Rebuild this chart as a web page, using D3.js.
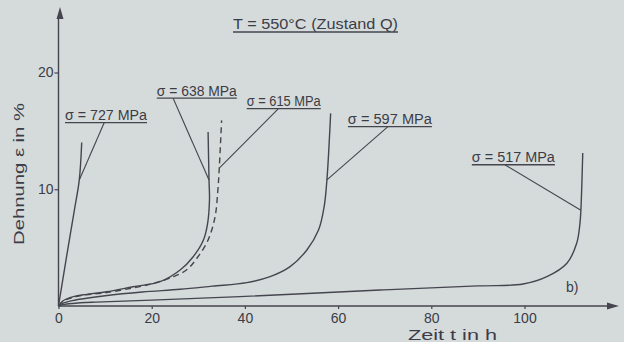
<!DOCTYPE html>
<html>
<head>
<meta charset="utf-8">
<script src="https://cdn.jsdelivr.net/npm/d3@7"></script>
<style>
  html, body { margin: 0; padding: 0; background: #d5dbda; }
  svg { display: block; }
  text { font-family: "Liberation Sans", "DejaVu Sans", sans-serif; fill: #3c3c48; }
</style>
</head>
<body>
<svg id="chart" width="624" height="342"></svg>
<script>
// Creep curves at T = 550 °C, strain (%) over time (h)
const timeTicks = [0, 20, 40, 60, 80, 100];
const strainTicks = [10, 20];
const stressLabels = ["σ = 727 MPa", "σ = 638 MPa", "σ = 615 MPa", "σ = 597 MPa", "σ = 517 MPa"];

const t727 = [0, 1.0, 2.2, 3.4, 4.46, 4.98];
const e727 = [0, 2.45, 5.35, 8.2, 10.8, 14.0];

const t638 = [0, 1, 3.2, 6, 10.3, 16, 21.8, 26.1, 28.9, 31.1, 32.0, 32.4, 32.3, 32.1];
const e638 = [0, 0.45, 0.8, 1.0, 1.22, 1.65, 2.08, 3.08, 4.22, 5.65, 7.08, 9.08, 10.8, 14.9];

const t615 = [0, 1, 3.2, 6, 10.3, 16, 20.5, 24.6, 27.5, 29.7, 32.1, 33.6, 34.2, 34.5, 35.0];
const e615 = [0, 0.42, 0.75, 0.95, 1.15, 1.55, 1.95, 2.5, 3.1, 4.09, 5.65, 7.65, 9.94, 11.8, 15.9];

const t597 = [0, 1, 2.5, 5, 10, 18, 26.1, 33, 40.4, 45.4, 49.7, 53.3, 55.8, 57.0, 57.6, 58.4];
const e597 = [0, 0.25, 0.42, 0.6, 0.88, 1.2, 1.43, 1.7, 2.0, 2.51, 3.37, 4.8, 6.5, 8.5, 10.8, 16.5];

const t517 = [0, 1, 3, 8, 20, 38.9, 69, 90, 99.7, 104.8, 109.1, 111.2, 111.9, 112.1, 112.5];
const e517 = [0, 0.12, 0.22, 0.33, 0.5, 0.8, 1.37, 1.72, 1.88, 2.51, 3.66, 5.37, 7.08, 8.2, 13.1];

// where each leader line touches its curve (t, ε)
const pointerTargetT = [4.46, 32.3, 34.5, 57.6, 112.1];
const pointerTargetE = [10.8, 10.8, 11.8, 10.8, 8.2];

// label placement in data units: text start, underline level, leader start
const labelAnchors = [
  { t: 1.4,  e: 15.7,  lt: 9.8,  w: 82 },
  { t: 21.1, e: 17.8,  lt: 24.6, w: 80 },
  { t: 40.4, e: 16.9,  lt: 47.2, w: 74 },
  { t: 62.1, e: 15.36, lt: 70.7, w: 84 },
  { t: 88.7, e: 12.1,  lt: 95.8, w: 83 }
];

const ink = "#45454f";
const svg = d3.select("#chart");

const x = d3.scaleLinear().domain([0, 100]).range([58.5, 524.5]);
const y = d3.scaleLinear().domain([0, 20]).range([306, 72.5]);

// axes with arrow heads
const axisG = svg.append("g");
axisG.append("line").attr("x1", x(0)).attr("x2", 612).attr("y1", y(0)).attr("y2", y(0))
  .attr("stroke", ink).attr("stroke-width", 1.4);
axisG.append("path").attr("d", `M619,${y(0)} L607,${y(0) - 3.5} L607,${y(0) + 3.5} Z`).attr("fill", ink);
axisG.append("line").attr("x1", x(0)).attr("x2", x(0)).attr("y1", y(0)).attr("y2", 16)
  .attr("stroke", ink).attr("stroke-width", 1.4);
axisG.append("path").attr("d", `M${x(0) + 1.5},7 L${x(0) - 2},19 L${x(0) + 5},19 Z`).attr("fill", ink);

// x ticks
const xAxis = d3.axisBottom(x).tickValues(timeTicks).tickSize(3).tickPadding(4).tickFormat(d3.format("d"));
const gx = svg.append("g").attr("transform", `translate(0,${y(0)})`).call(xAxis);
gx.select(".domain").remove();
gx.selectAll(".tick line").attr("stroke", ink).attr("stroke-width", 1.2);
gx.selectAll(".tick text").attr("font-size", 14).attr("fill", "#3c3c48")
  .style("font-family", "Liberation Sans, sans-serif");

// y ticks
const yAxis = d3.axisLeft(y).tickValues(strainTicks).tickSize(4).tickPadding(1).tickFormat(d3.format("d"));
const gy = svg.append("g").attr("transform", `translate(${x(0)},0)`).call(yAxis);
gy.select(".domain").remove();
gy.selectAll(".tick line").attr("stroke", ink).attr("stroke-width", 1.2);
gy.selectAll(".tick text").attr("font-size", 14).attr("fill", "#3c3c48")
  .style("font-family", "Liberation Sans, sans-serif");

// curves
const line = d3.line().x(d => x(d[0])).y(d => y(d[1])).curve(d3.curveCatmullRom.alpha(0.5));
const curves = [
  { t: t727, e: e727, dash: null },
  { t: t638, e: e638, dash: null },
  { t: t615, e: e615, dash: "6,4" },
  { t: t597, e: e597, dash: null },
  { t: t517, e: e517, dash: null }
];
svg.append("g").selectAll("path").data(curves).join("path")
  .attr("d", c => line(d3.zip(c.t, c.e)))
  .attr("fill", "none")
  .attr("stroke", ink)
  .attr("stroke-width", 1.4)
  .attr("stroke-dasharray", c => c.dash);

// stress labels with underline and leader line
const lab = svg.append("g").selectAll("g").data(stressLabels).join("g");
lab.append("text")
  .attr("x", (d, i) => x(labelAnchors[i].t))
  .attr("y", (d, i) => y(labelAnchors[i].e) - 2.5)
  .attr("font-size", 14)
  .attr("textLength", (d, i) => labelAnchors[i].w)
  .attr("lengthAdjust", "spacingAndGlyphs")
  .text(d => d);
lab.append("line")
  .attr("x1", (d, i) => x(labelAnchors[i].t))
  .attr("x2", (d, i) => x(labelAnchors[i].t) + labelAnchors[i].w)
  .attr("y1", (d, i) => y(labelAnchors[i].e))
  .attr("y2", (d, i) => y(labelAnchors[i].e))
  .attr("stroke", ink).attr("stroke-width", 1.3);
lab.append("line")
  .attr("x1", (d, i) => x(labelAnchors[i].lt))
  .attr("y1", (d, i) => y(labelAnchors[i].e))
  .attr("x2", (d, i) => x(pointerTargetT[i]))
  .attr("y2", (d, i) => y(pointerTargetE[i]))
  .attr("stroke", ink).attr("stroke-width", 1.1);

// title
svg.append("text").attr("x", 233).attr("y", 28.5).attr("font-size", 15)
  .attr("textLength", 165).attr("lengthAdjust", "spacingAndGlyphs")
  .text("T = 550°C (Zustand Q)");
svg.append("line").attr("x1", 233).attr("x2", 398).attr("y1", 32).attr("y2", 32)
  .attr("stroke", ink).attr("stroke-width", 1.3);

// panel tag
svg.append("text").attr("x", 566).attr("y", 292).attr("font-size", 14).text("b)");

// axis titles
svg.append("text").attr("x", 408).attr("y", 340).attr("font-size", 14)
  .attr("textLength", 89).attr("lengthAdjust", "spacingAndGlyphs")
  .text("Zeit t in h");
svg.append("text")
  .attr("transform", "translate(24,245) rotate(-90)")
  .attr("font-size", 15)
  .attr("textLength", 142)
  .attr("lengthAdjust", "spacingAndGlyphs")
  .text("Dehnung ε in %");
</script>
</body>
</html>
